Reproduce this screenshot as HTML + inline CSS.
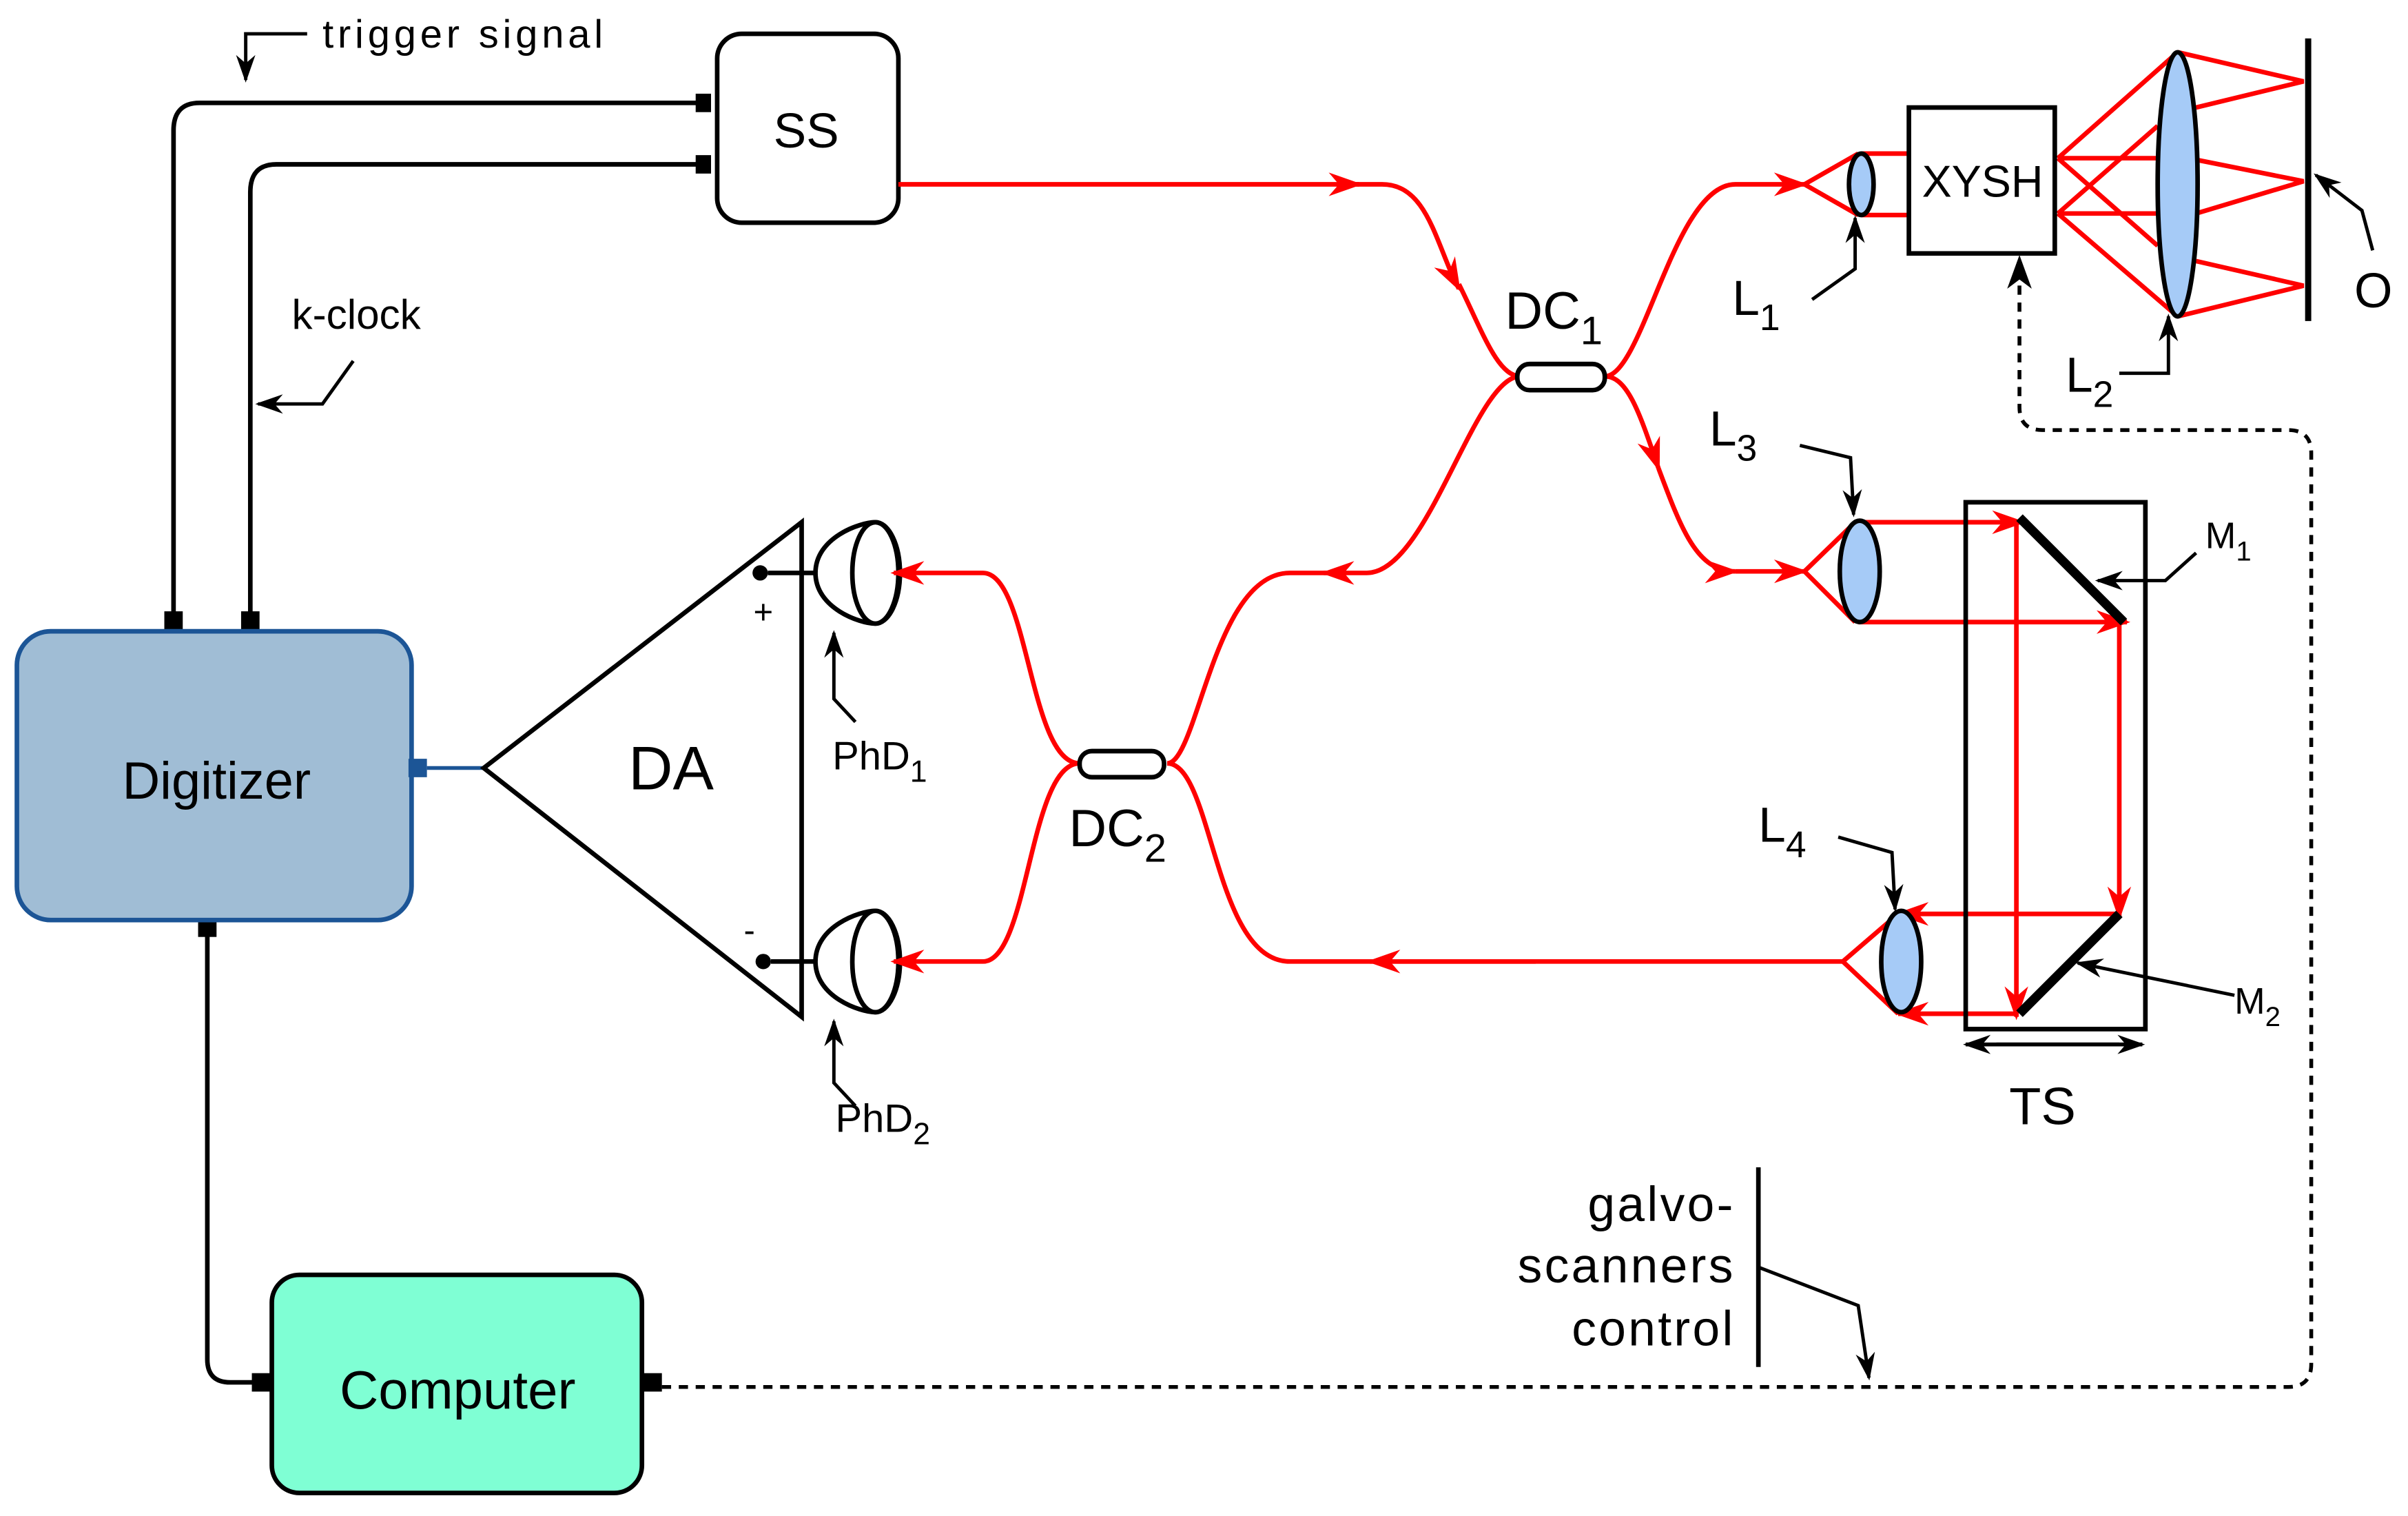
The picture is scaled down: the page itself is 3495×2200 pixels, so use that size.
<!DOCTYPE html>
<html><head><meta charset="utf-8"><style>
html,body{margin:0;padding:0;background:#fff;}
svg{display:block;}
text{font-family:"Liberation Sans",sans-serif;fill:#000;}
</style></head><body>
<svg width="3495" height="2200" viewBox="0 0 1568 987" preserveAspectRatio="none" xmlns="http://www.w3.org/2000/svg">
<defs>
<marker id="ar" viewBox="0 0 20 20" refX="18" refY="10" markerWidth="22" markerHeight="22" markerUnits="userSpaceOnUse" orient="auto"><path d="M0,3 L20,10 L0,17 L6,10 Z" fill="red"/></marker>
<marker id="ab" viewBox="0 0 20 20" refX="18" refY="10" markerWidth="18" markerHeight="18" markerUnits="userSpaceOnUse" orient="auto"><path d="M0,3 L20,10 L0,17 L6,10 Z" fill="#000"/></marker>
</defs>
<g fill="none" stroke="#000" stroke-width="3">
<path d="M460,67 H130 Q113,67 113,85 V400"/>
<path d="M460,107 H180 Q163,107 163,125 V400"/>
<path d="M200,22 H160 V52" stroke-width="2.2" marker-end="url(#ab)"/>
<path d="M230,235 L210,263 H168" stroke-width="2.2" marker-end="url(#ab)"/>
<path d="M135,605 V885 Q135,900 150,900 H170"/>
</g>
<g fill="#000">
<rect x="453" y="61" width="10" height="12"/><rect x="453" y="101" width="10" height="12"/>
<rect x="107" y="398" width="12" height="12"/><rect x="157" y="398" width="12" height="12"/>
<rect x="129" y="598" width="12" height="12"/>
<rect x="164" y="894" width="12" height="12"/><rect x="419" y="894" width="12" height="12"/>
</g>
<text x="210" y="31" font-size="26" letter-spacing="2.6">trigger  signal</text>
<text x="190" y="214" font-size="27">k-clock</text>
<rect x="467" y="22" width="118" height="123" rx="16" fill="#fff" stroke="#000" stroke-width="3"/>
<text x="525" y="96" font-size="32" text-anchor="middle">SS</text>
<rect x="11" y="411" width="257" height="188" rx="22" fill="#a0bdd5" stroke="#1c5596" stroke-width="3"/>
<text x="141" y="520" font-size="34" text-anchor="middle">Digitizer</text>
<rect x="266" y="494" width="12" height="12" fill="#1c5596"/>
<line x1="278" y1="500" x2="315" y2="500" stroke="#1c5596" stroke-width="2.5"/>
<rect x="177" y="830" width="241" height="142" rx="18" fill="#7fffd4" stroke="#000" stroke-width="3"/>
<text x="298" y="917" font-size="35" text-anchor="middle">Computer</text>
<path d="M315,500 L522,340 V662 Z" fill="none" stroke="#000" stroke-width="3"/>
<text x="437" y="514" font-size="40" text-anchor="middle">DA</text>
<text x="497" y="406" font-size="22" text-anchor="middle">+</text>
<text x="488" y="613" font-size="22" text-anchor="middle">-</text>
<circle cx="495" cy="373" r="5"/><circle cx="497" cy="626" r="5"/>
<g fill="#fff" stroke="#000" stroke-width="3">
<line x1="500" y1="373" x2="531" y2="373"/><line x1="502" y1="626" x2="531" y2="626"/>
<path d="M531,373 C531,350 560,340 570,340 A16,33 0 0 1 570,406 C560,406 531,396 531,373Z"/>
<ellipse cx="570" cy="373" rx="15" ry="33"/>
<path d="M531,626 C531,603 560,593 570,593 A16,33 0 0 1 570,659 C560,659 531,649 531,626Z"/>
<ellipse cx="570" cy="626" rx="15" ry="33"/>
</g>
<g fill="none" stroke="#000" stroke-width="2.2">
<path d="M557,470 L543,455 V412" marker-end="url(#ab)"/>
<path d="M557,720 L543,705 V665" marker-end="url(#ab)"/>
</g>
<text x="542" y="501" font-size="26">PhD<tspan font-size="20" dy="8">1</tspan></text>
<text x="544" y="737" font-size="26">PhD<tspan font-size="20" dy="8">2</tspan></text>
<g fill="none" stroke="red" stroke-width="3">
<path d="M585,120 H885" marker-end="url(#ar)"/>
<path d="M880,120 H900 C930,120 935,160 950,188" marker-end="url(#ar)"/>
<path d="M950,185 C965,215 975,245 990,245"/>
<path d="M1045,245 C1070,245 1090,120 1130,120 H1175" marker-end="url(#ar)"/>
<path d="M1045,245 C1060,245 1068,270 1080,305" marker-end="url(#ar)"/>
<path d="M1080,305 C1095,345 1105,372 1130,372" marker-end="url(#ar)"/>
<path d="M1130,372 H1175" marker-end="url(#ar)"/>
<path d="M990,245 C960,245 930,373 890,373 H862" marker-end="url(#ar)"/>
<path d="M865,373 H840 C790,373 780,497 760,497"/>
<path d="M703,497 C670,497 670,373 640,373 H582" marker-end="url(#ar)"/>
<path d="M703,497 C670,497 670,626 640,626 H582" marker-end="url(#ar)"/>
<path d="M760,497 C790,497 790,626 840,626 H1200"/>
<path d="M1000,626 H892" marker-end="url(#ar)"/>
<path d="M1175,120 L1210,100 M1175,120 L1210,140"/>
<path d="M1212,100 H1243 M1212,140 H1243"/>
<path d="M1340,103 L1418,34 M1340,103 H1405 M1340,103 L1405,160"/>
<path d="M1340,139 L1405,82 M1340,139 H1405 M1340,139 L1418,206"/>
<path d="M1418,34 L1500,53 L1430,70 M1430,104 L1500,118 L1430,139 M1430,170 L1500,186 L1418,206"/>
<path d="M1175,372 L1208,340 M1175,372 L1208,405"/>
<path d="M1210,340 H1317" marker-end="url(#ar)"/>
<path d="M1210,405 H1385" marker-end="url(#ar)"/>
<path d="M1380,405 V597" marker-end="url(#ar)"/>
<path d="M1380,595 H1236" marker-end="url(#ar)"/>
<path d="M1313,340 V662" marker-end="url(#ar)"/>
<path d="M1313,660 H1236" marker-end="url(#ar)"/>
<path d="M1200,626 L1236,595 M1200,626 L1236,660"/>
</g>
<rect x="988" y="237" width="57" height="17" rx="8" fill="#fff" stroke="#000" stroke-width="3"/>
<rect x="703" y="489" width="55" height="17" rx="8" fill="#fff" stroke="#000" stroke-width="3"/>
<text x="980" y="214" font-size="34">DC<tspan font-size="26" dy="10">1</tspan></text>
<text x="696" y="551" font-size="34">DC<tspan font-size="26" dy="10">2</tspan></text>
<g fill="#a6cbf7" stroke="#000" stroke-width="3">
<ellipse cx="1212" cy="120" rx="8" ry="20"/>
<ellipse cx="1418" cy="120" rx="13" ry="86"/>
<ellipse cx="1211" cy="372" rx="13" ry="33"/>
<ellipse cx="1238" cy="626" rx="13" ry="33"/>
</g>
<rect x="1243" y="70" width="95" height="95" fill="#fff" stroke="#000" stroke-width="3"/>
<text x="1291" y="128" font-size="29" text-anchor="middle">XYSH</text>
<line x1="1503" y1="25" x2="1503" y2="209" stroke="#000" stroke-width="4"/>
<rect x="1280" y="327" width="117" height="343" fill="none" stroke="#000" stroke-width="3"/>
<line x1="1315" y1="337" x2="1383" y2="405" stroke="#000" stroke-width="6"/>
<line x1="1315" y1="660" x2="1380" y2="595" stroke="#000" stroke-width="6"/>
<path d="M1300,680 H1395" stroke="#000" stroke-width="2.5" marker-end="url(#ab)"/>
<path d="M1380,680 H1280" stroke="#000" stroke-width="2.5" marker-end="url(#ab)"/>
<text x="1330" y="732" font-size="34" text-anchor="middle">TS</text>
<g fill="none" stroke="#000" stroke-width="2.2">
<path d="M1180,195 L1208,175 V142" marker-end="url(#ab)"/>
<path d="M1380,243 L1412,243 V206" marker-end="url(#ab)"/>
<path d="M1545,163 L1538,137 L1508,114" marker-end="url(#ab)"/>
<path d="M1172,290 L1205,298 L1207,335" marker-end="url(#ab)"/>
<path d="M1197,545 L1232,555 L1234,592" marker-end="url(#ab)"/>
<path d="M1430,360 L1410,378 H1366" marker-end="url(#ab)"/>
<path d="M1455,648 L1353,627" marker-end="url(#ab)"/>
<path d="M1145,825 L1210,850 L1217,897" marker-end="url(#ab)"/>
</g>
<text x="1128" y="205" font-size="32">L<tspan font-size="24" dy="10">1</tspan></text>
<text x="1345" y="255" font-size="32">L<tspan font-size="24" dy="10">2</tspan></text>
<text x="1113" y="290" font-size="32">L<tspan font-size="24" dy="10">3</tspan></text>
<text x="1145" y="548" font-size="32">L<tspan font-size="24" dy="10">4</tspan></text>
<text x="1533" y="200" font-size="32">O</text>
<text x="1436" y="357" font-size="24">M<tspan font-size="18" dy="8">1</tspan></text>
<text x="1455" y="660" font-size="24">M<tspan font-size="18" dy="8">2</tspan></text>
<text x="1130" y="795" font-size="32" letter-spacing="1.5" text-anchor="end">galvo-</text>
<text x="1130" y="835" font-size="32" letter-spacing="1.5" text-anchor="end">scanners</text>
<text x="1130" y="876" font-size="32" letter-spacing="1.5" text-anchor="end">control</text>
<line x1="1145" y1="760" x2="1145" y2="890" stroke="#000" stroke-width="3"/>
<path d="M431,903 H1490 Q1505,903 1505,888 V295 Q1505,280 1490,280 H1330 Q1315,280 1315,265 V172" fill="none" stroke="#000" stroke-width="2.5" stroke-dasharray="6,5"/>
<path d="M1315,166 L1307,188 L1315,182 L1323,188 Z" fill="#000"/>
</svg>
</body></html>
